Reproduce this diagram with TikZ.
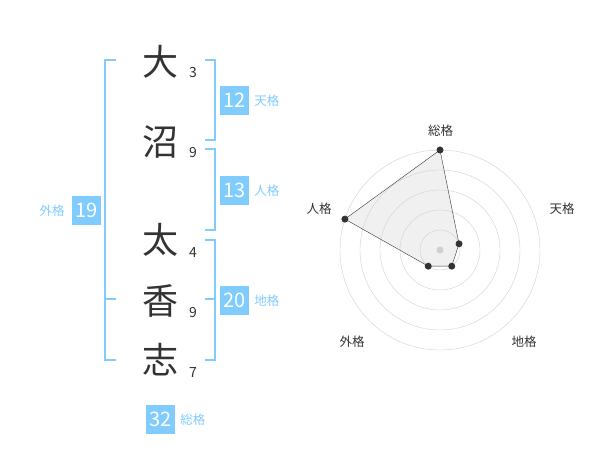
\documentclass[tikz,border=0pt]{standalone}
\usepackage{fontspec}
\setmainfont{Noto Sans CJK JP}
\usetikzlibrary{positioning}
\definecolor{kaku}{HTML}{80CCFF}
\definecolor{moji}{HTML}{333333}
\definecolor{grid}{HTML}{D0D0D0}

\begin{document}
\begin{tikzpicture}[x=1pt,y=-1pt,
    kanji/.style={text=moji,font=\fontsize{36}{36}\selectfont,inner sep=0pt},
    kakusu/.style={text=moji,font=\fontsize{14}{14}\selectfont,inner sep=0pt},
    kbox/.style={fill=kaku,text=white,font=\fontsize{20}{20}\selectfont,minimum size=29pt,inner sep=0pt},
    klabel/.style={text=kaku,font=\fontsize{12.5}{12.5}\selectfont,inner sep=0pt},
    bracket/.style={draw=kaku,line width=2pt},
    axislabel/.style={text=moji,font=\fontsize{12.5}{12.5}\selectfont,inner sep=0pt},
    pt/.style={circle,fill=moji,inner sep=0pt,minimum size=7pt}]
    \useasboundingbox (0,0) rectangle (600,470);

    % name
    \node[kanji] (c1) at (160,62) {大};
    \node[kanji] (c2) at (160,142) {沼};
    \node[kanji] (c3) at (160,240) {太};
    \node[kanji] (c4) at (160,301) {香};
    \node[kanji] (c5) at (160,360) {志};

    % strokes
    \node[kakusu] (n1) at (193,73) {3};
    \node[kakusu] (n2) at (193,153) {9};
    \node[kakusu] (n3) at (193,253) {4};
    \node[kakusu] (n4) at (193,313) {9};
    \node[kakusu] (n5) at (193,373) {7};

    % brackets
    \draw[bracket] (205,60) -| (214.5,140) -- (205,140);
    \draw[bracket] (205,149.5) -| (214.5,230) -- (205,230);
    \draw[bracket] (205,240) -| (214.5,360) -- (205,360);
    \draw[bracket] (205,299.5) -- (214.5,299.5);
    \draw[bracket] (115.5,60) -| (105,360) -- (115.5,360);
    \draw[bracket] (105,299.5) -- (115.5,299.5);

    % totals
    \node[kbox] (ten) at (234.5,100.5) {12};
    \node[klabel,right=5pt of ten] (tenl) {天格};
    \node[kbox] (jin) at (234.5,190.5) {13};
    \node[klabel,right=5pt of jin] (jinl) {人格};
    \node[kbox] (chi) at (234.5,300.5) {20};
    \node[klabel,right=5pt of chi] (chil) {地格};
    \node[kbox] (gai) at (86.5,210.5) {19};
    \node[klabel,left=7pt of gai] (gail) {外格};
    \node[kbox] (sou) at (160.5,419.5) {32};
    \node[klabel,right=5pt of sou] (soul) {総格};

    % radar
    \coordinate (o) at (440,250);
    \path (o) ++(-90:100) coordinate (psou)
          (o) ++(-18:20) coordinate (pten)
          (o) ++(54:20) coordinate (pchi)
          (o) ++(126:20) coordinate (pgai)
          (o) ++(198:100) coordinate (pjin);
    \fill[black!6] (psou) -- (pten) -- (pchi) -- (pgai) -- (pjin) -- cycle;
    \foreach \r in {20,40,60,80,100}
        \draw[grid] (o) circle (\r);
    \fill[grid] (o) circle (3.5);
    \draw[moji] (psou) -- (pten) -- (pchi) -- (pgai) -- (pjin) -- cycle;
    \foreach \p in {psou,pten,pchi,pgai,pjin}
        \node[pt] at (\p) {};

    \node[axislabel] (asou) at (440.5,131) {総格};
    \node[axislabel] (aten) at (562,209) {天格};
    \node[axislabel] (achi) at (524,342) {地格};
    \node[axislabel] (agai) at (352,342) {外格};
    \node[axislabel] (ajin) at (319,209) {人格};
\end{tikzpicture}
\end{document}
